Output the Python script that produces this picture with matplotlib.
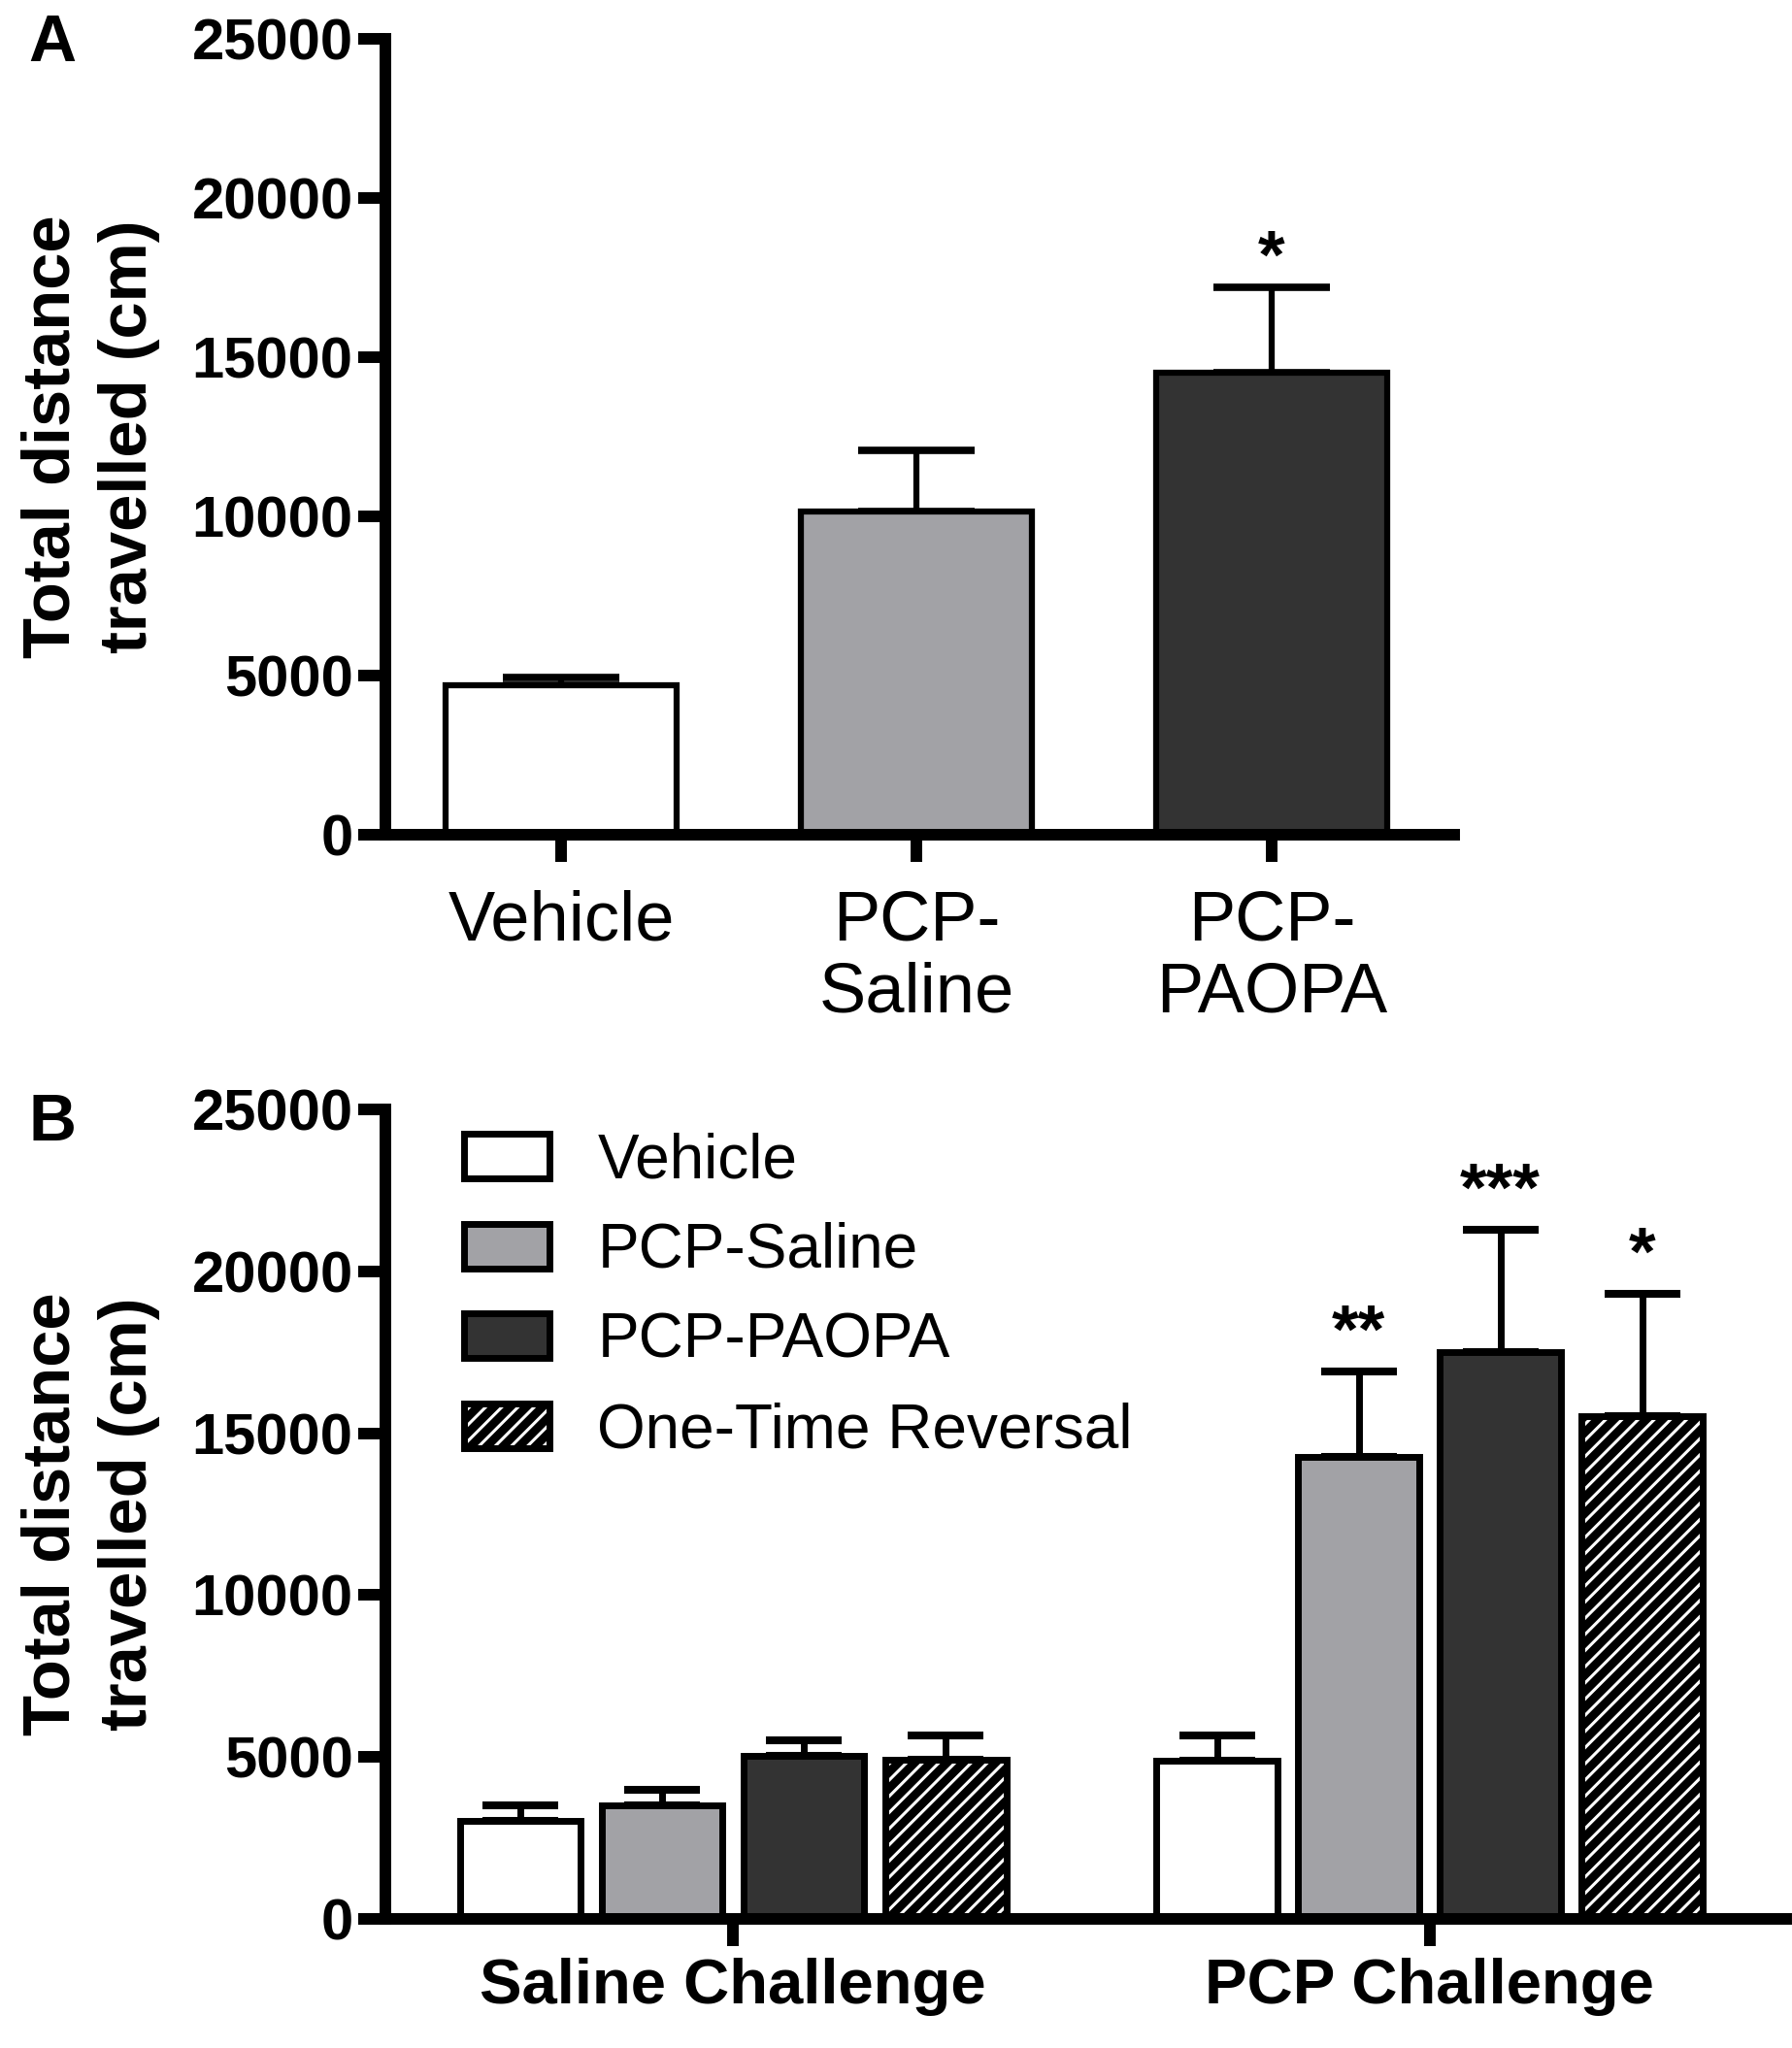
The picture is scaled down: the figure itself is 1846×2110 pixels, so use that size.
import matplotlib
matplotlib.use('Agg')
import matplotlib.pyplot as plt
import numpy as np

plt.rcParams['font.family'] = ['Liberation Sans', 'DejaVu Sans']
plt.rcParams['hatch.linewidth'] = 2.2

# ---------------- data ----------------
# Panel A
a_groups = ['Vehicle', 'PCP-\nSaline', 'PCP-\nPAOPA']
a_means = [4700, 10140, 14500]
a_sems = [230, 1925, 2690]
a_colors = ['white', '#a2a2a6', '#333333']
a_sig = ['', '', '*']

# Panel B
b_challenges = ['Saline Challenge', 'PCP Challenge']
b_series = ['Vehicle', 'PCP-Saline', 'PCP-PAOPA', 'One-Time Reversal']
b_means = {
    'Vehicle': [3020, 4880],
    'PCP-Saline': [3500, 14280],
    'PCP-PAOPA': [5030, 17500],
    'One-Time Reversal': [4910, 15520],
}
b_sems = {
    'Vehicle': [480, 790],
    'PCP-Saline': [500, 2620],
    'PCP-PAOPA': [490, 3790],
    'One-Time Reversal': [760, 3770],
}
b_sig = {
    'Vehicle': ['', ''],
    'PCP-Saline': ['', '**'],
    'PCP-PAOPA': ['', '***'],
    'One-Time Reversal': ['', '*'],
}
b_colors = {'Vehicle': 'white', 'PCP-Saline': '#a2a2a6',
            'PCP-PAOPA': '#333333', 'One-Time Reversal': 'black'}

y_ticks = [0, 5000, 10000, 15000, 20000, 25000]
y_label = 'Total distance\ntravelled (cm)'

# ---------------- figure ----------------
W, H = 1846, 2110
fig = plt.figure(figsize=(W / 100, H / 100), dpi=100)

SPINE_LW = 8.6


def style_axes(ax, xlabel_x):
    for s in ['top', 'right']:
        ax.spines[s].set_visible(False)
    for s in ['left', 'bottom']:
        ax.spines[s].set_linewidth(SPINE_LW)
    ax.set_ylim(0, 25000)
    ax.set_yticks(y_ticks, labels=[str(t) for t in y_ticks],
                  fontsize=43, fontweight='bold')
    ax.tick_params(axis='y', length=20, width=SPINE_LW, pad=4)
    ax.set_ylabel(y_label, fontsize=49.5, fontweight='bold', linespacing=1.32)
    ax.yaxis.set_label_coords(xlabel_x, 0.5)


# ---------- Panel A ----------
axA = fig.add_axes([397 / W, 1 - 860 / H, 1101 / W, 820 / H])
xa = np.arange(len(a_groups))
for i in range(len(a_groups)):
    axA.bar(xa[i], a_means[i], width=0.65, color=a_colors[i],
            edgecolor='black', linewidth=4.5, zorder=2)
axA.errorbar(xa, a_means, yerr=[np.zeros(len(a_groups)), a_sems], fmt='none',
             ecolor='black', elinewidth=4.5, capsize=43, capthick=5.5, zorder=1)
for i in range(len(a_groups)):
    if a_sig[i]:
        axA.annotate(a_sig[i], xy=(xa[i], a_means[i] + a_sems[i]),
                     xytext=(0, 7), textcoords='offset points',
                     ha='center', va='baseline', fontsize=51, fontweight='bold')
axA.set_xlim(-0.495, 2.514)
style_axes(axA, -0.2105)
axA.set_xticks(xa, labels=a_groups, fontsize=52, linespacing=1.12)
axA.tick_params(axis='x', length=20, width=SPINE_LW, pad=21)

# ---------- Panel B ----------
axB = fig.add_axes([397 / W, 1 - 1977 / H, 1443 / W, 834 / H])
xb = np.arange(len(b_challenges))
step = 0.2035
bw = 0.174
handles = []
for j, name in enumerate(b_series):
    pos = xb + (j - 1.5) * step
    means = b_means[name]
    sems = b_sems[name]
    if name == 'One-Time Reversal':
        hb = axB.bar(pos, means, width=bw, color='black', edgecolor='white',
                     hatch='//', linewidth=0, zorder=2)
        ob = axB.bar(pos, means, width=bw, facecolor='none',
                     edgecolor='black', linewidth=5, zorder=2.5)
        handles.append((hb, ob))
    else:
        bb = axB.bar(pos, means, width=bw, color=b_colors[name],
                     edgecolor='black', linewidth=5, zorder=2)
        handles.append(bb)
    axB.errorbar(pos, means, yerr=[np.zeros(len(means)), sems], fmt='none',
                 ecolor='black', elinewidth=5, capsize=28, capthick=5.8, zorder=1)
    for k in range(len(means)):
        if b_sig[name][k]:
            axB.annotate(b_sig[name][k], xy=(pos[k], means[k] + sems[k]),
                         xytext=(0, 14), textcoords='offset points',
                         ha='center', va='baseline', fontsize=51,
                         fontweight='bold')
axB.set_xlim(-0.499, 1.512)
style_axes(axB, -0.1606)
axB.set_xticks(xb, labels=b_challenges, fontsize=47, fontweight='bold')
axB.tick_params(axis='x', length=20, width=SPINE_LW, pad=9)

axB.legend(handles, b_series, loc='upper left', bbox_to_anchor=(0.0561, 0.9720),
           frameon=False, fontsize=46, handlelength=1.38, handleheight=0.735,
           handletextpad=0.77, labelspacing=0.51, borderpad=0, borderaxespad=0)

# panel letters
fig.text(29 / W, 1 - 63 / H, 'A', fontsize=49, fontweight='bold', va='baseline')
fig.text(29 / W, 1 - 1175 / H, 'B', fontsize=49, fontweight='bold', va='baseline')

fig.savefig('out.png', dpi=100)
